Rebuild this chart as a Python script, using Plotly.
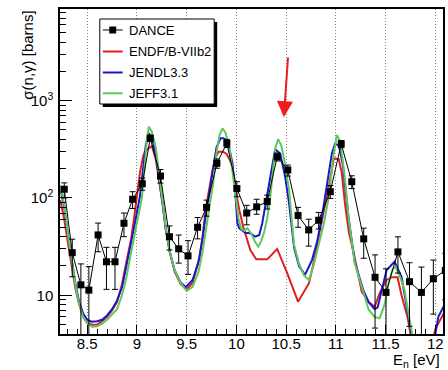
import plotly.graph_objects as go
import math

# ---------------- data ----------------
dance_E = [8.27, 8.35, 8.437, 8.517, 8.61, 8.694, 8.78, 8.87, 8.957, 9.054,
           9.134, 9.237, 9.327, 9.42, 9.514, 9.61, 9.70, 9.804, 9.904, 10.005,
           10.104, 10.204, 10.31, 10.41, 10.517, 10.62, 10.727, 10.827, 10.944, 11.054,
           11.16, 11.28, 11.394, 11.504, 11.624, 11.74, 11.86, 11.98, 12.10]
dance_sigma = [123, 27.4, 12.8, 11.3, 41.7, 22.1, 22.1, 55, 97, 140,
               411, 168, 40, 30, 25.4, 50, 80, 227, 365, 125,
               70, 81, 92, 265, 194, 66, 47, 59, 116, 359,
               147, 38, 15.3, 10.7, 27.9, 13.8, 10.7, 14.8, 18]
dance_err_up = [20, 10.3, 8.2, 8.4, 13.5, 9, 9, 15, 19, 20,
                30, 28, 11.6, 11.6, 11, 13, 15, 25, 35, 22,
                14, 16, 15, 25, 24, 14, 13.5, 12, 18, 30,
                22, 11, 10.7, 8, 12, 7.8, 8.8, 8.2, 9]
dance_err_down = [23, 11.9, 9.8, 9.5, 13.7, 10.6, 10.6, 15, 19, 20,
                  30, 26, 10.8, 8.6, 9, 12, 15, 25, 35, 22,
                  17, 13, 15, 25, 26, 16, 15, 11, 17, 30,
                  22, 14, 10.7, 9, 11, 9, 9.5, 8.4, 9]

endf_E = [8.23, 8.27, 8.31, 8.35, 8.38, 8.42, 8.46, 8.50, 8.56, 8.60,
          8.65, 8.70, 8.75, 8.80, 8.85, 8.89, 8.94, 8.97, 9.00, 9.03,
          9.06, 9.08, 9.11, 9.15, 9.19, 9.23, 9.26, 9.29, 9.33, 9.38,
          9.44, 9.50, 9.56, 9.63, 9.66, 9.69, 9.73, 9.76, 9.79, 9.82,
          9.86, 9.90, 9.93, 9.96, 10.00, 10.03, 10.07, 10.12, 10.14, 10.20,
          10.31, 10.41, 10.51, 10.62, 10.73, 10.79, 10.84, 10.93, 10.98, 11.03,
          11.06, 11.09, 11.13, 11.18, 11.26, 11.33, 11.39, 11.44, 11.51, 11.56,
          11.62, 11.66, 11.72, 11.76, 11.96, 12.00, 12.10]
endf_sigma = [95, 60, 33, 18, 12, 8.0, 6.0, 5.2, 4.95, 5.0,
              5.4, 6.0, 7.0, 8.5, 13, 21, 37, 60, 103, 180,
              260, 300, 320, 342, 250, 140, 85, 48, 28, 17.5,
              13, 11.5, 13.4, 24.9, 40, 75, 130, 193, 260, 299,
              299, 285, 250, 210, 110, 75, 50, 35, 29.2, 23.4,
              23.4, 29.9, 17, 8.6, 13.3, 25, 47, 131, 256, 250,
              180, 90, 45, 27, 10.9, 8.5, 7.6, 10.5, 14.4, 15.3,
              15.3, 10, 6.0, 3.5, 3.0, 4.5, 7.0]

jendl_E = [8.23, 8.27, 8.31, 8.35, 8.38, 8.42, 8.46, 8.50, 8.544, 8.60,
           8.65, 8.70, 8.75, 8.80, 8.85, 8.89, 8.94, 8.98, 9.03, 9.06,
           9.09, 9.12, 9.15, 9.19, 9.23, 9.26, 9.29, 9.33, 9.38, 9.44,
           9.49, 9.56, 9.62, 9.66, 9.69, 9.73, 9.76, 9.80, 9.84, 9.87,
           9.90, 9.93, 9.96, 9.99, 10.01, 10.03, 10.09, 10.14, 10.19, 10.23,
           10.26, 10.29, 10.33, 10.36, 10.39, 10.44, 10.49, 10.53, 10.58, 10.63,
           10.69, 10.76, 10.81, 10.86, 10.91, 10.96, 10.99, 11.03, 11.07, 11.10,
           11.13, 11.19, 11.28, 11.33, 11.39, 11.42, 11.51, 11.59, 11.66, 11.73,
           11.77, 11.85, 11.99, 12.03, 12.10]
jendl_sigma = [125, 80, 40, 20, 13.5, 8.5, 6.5, 5.6, 5.36, 5.4,
               5.6, 6.2, 7.2, 8.8, 12, 19, 33, 55, 103, 200,
               350, 462, 420, 280, 150, 85, 48, 28, 18, 13.5,
               12.1, 14.4, 22, 38, 64, 120, 190, 330, 411, 411,
               390, 320, 228, 110, 55, 48.8, 44, 43.5, 40, 41.7,
               55, 81, 142, 220, 317, 287, 166, 88, 31, 20,
               16.2, 23, 35, 64, 131, 287, 357, 350, 220, 120,
               60, 22, 11, 8.5, 7.2, 7.5, 18.2, 22.1, 15.5, 6.0,
               3.5, 2.5, 3.5, 6.0, 8.3]

jeff_E = [8.23, 8.27, 8.31, 8.35, 8.38, 8.42, 8.46, 8.50, 8.55, 8.60,
          8.65, 8.70, 8.75, 8.80, 8.85, 8.89, 8.94, 8.98, 9.02, 9.05,
          9.08, 9.10, 9.12, 9.15, 9.19, 9.23, 9.26, 9.29, 9.33, 9.38,
          9.44, 9.50, 9.56, 9.62, 9.66, 9.70, 9.74, 9.77, 9.80, 9.83,
          9.86, 9.89, 9.93, 9.96, 9.99, 10.02, 10.05, 10.08, 10.11, 10.15,
          10.19, 10.22, 10.25, 10.28, 10.31, 10.34, 10.37, 10.39, 10.42, 10.45,
          10.48, 10.53, 10.58, 10.63, 10.68, 10.73, 10.78, 10.83, 10.88, 10.93,
          10.97, 11.01, 11.04, 11.07, 11.10, 11.13, 11.19, 11.28, 11.33, 11.39,
          11.44, 11.49, 11.53, 11.57, 11.60, 11.65, 11.69, 11.73, 11.76, 11.79]
jeff_sigma = [135, 85, 40, 20, 13, 8.0, 6.0, 5.2, 4.75, 4.8,
              5.1, 5.6, 6.3, 7.2, 10, 14.5, 27, 45, 70, 100,
              220, 400, 540, 480, 330, 160, 90, 50, 28, 18,
              13.3, 11.1, 12.2, 17.5, 28, 52, 95, 150, 290, 440,
              520, 470, 330, 200, 110, 62, 48, 46, 49, 43,
              35, 31.6, 36, 45, 62, 100, 200, 320, 401, 350,
              250, 120, 33, 21, 16, 14.4, 21, 33, 55, 103,
              250, 443, 390, 240, 130, 59, 21.3, 10.5, 7.1, 6.0,
              5.8, 8.0, 13.3, 18.5, 19.7, 15, 11.3, 6.5, 4.4, 3.0]

x_ticks = [8.5, 9, 9.5, 10, 10.5, 11, 11.5, 12]
x_tick_labels = ["8.5", "9", "9.5", "10", "10.5", "11", "11.5", "12"]
y_ticks = [10, 100, 1000]
y_tick_labels = ["10", "10<sup>2</sup>", "10<sup>3</sup>"]
y_minor_ticks = [m * 10 ** k for k in range(0, 4) for m in range(2, 10)]
x_range = [8.227, 12.077]
y_range = [4.0, 8750]

legend_names = ["DANCE", "ENDF/B-VIIb2", "JENDL3.3", "JEFF3.1"]
arrow_tip = (10.477, 675)
arrow_tail = (10.52, 2877)

# ---------------- styles ----------------
FONT = "Arial, Liberation Sans, Helvetica, sans-serif"
RED = "#e02020"
BLUE = "#1818c8"
GREEN = "#5ec85e"
colors = ["black", RED, BLUE, GREEN]

W, H = 448, 370
L, R, T, B = 60, 3, 9, 36
PX0, PX1, PY0, PY1 = L, W - R, T, H - B


def px_x(p):
    return (p - PX0) / (PX1 - PX0)


def px_y(p):
    return (PY1 - p) / (PY1 - PY0)


fig = go.Figure()

for E, s, c, name in [(endf_E, endf_sigma, RED, legend_names[1]),
                      (jendl_E, jendl_sigma, BLUE, legend_names[2]),
                      (jeff_E, jeff_sigma, GREEN, legend_names[3])]:
    fig.add_trace(go.Scatter(x=E, y=s, mode="lines", name=name,
                             line=dict(color=c, width=2), showlegend=False))

fig.add_trace(go.Scatter(
    x=dance_E, y=dance_sigma, mode="lines+markers", name=legend_names[0],
    line=dict(color="black", width=1),
    marker=dict(symbol="square", size=7, color="black"),
    error_y=dict(type="data", symmetric=False, array=dance_err_up,
                 arrayminus=dance_err_down, color="black", thickness=1, width=3),
    showlegend=False))

shapes = []
annotations = []

# legend (shadow + box)
lx0, lx1, ly0, ly1 = 100, 215, 19, 104
shapes.append(dict(type="rect", xref="paper", yref="paper", layer="above",
                   x0=px_x(lx0 + 3), x1=px_x(lx1 + 3), y0=px_y(ly1 + 3), y1=px_y(ly0 + 3),
                   fillcolor="black", line=dict(width=0)))
shapes.append(dict(type="rect", xref="paper", yref="paper", layer="above",
                   x0=px_x(lx0), x1=px_x(lx1), y0=px_y(ly1), y1=px_y(ly0),
                   fillcolor="white", line=dict(color="black", width=1)))
entry_y = [30, 51.5, 72.5, 93.3]
for name, c, ey in zip(legend_names, colors, entry_y):
    shapes.append(dict(type="line", xref="paper", yref="paper", layer="above",
                       x0=px_x(103), x1=px_x(123), y0=px_y(ey), y1=px_y(ey),
                       line=dict(color=c, width=1 if c == "black" else 2)))
    annotations.append(dict(x=px_x(127), y=px_y(ey), xref="paper", yref="paper",
                            text=name, showarrow=False, xanchor="left", yanchor="middle",
                            font=dict(family=FONT, size=13, color="black")))
shapes.append(dict(type="rect", xref="paper", yref="paper", layer="above",
                   x0=px_x(109.5), x1=px_x(116.5), y0=px_y(33.5), y1=px_y(26.5),
                   fillcolor="black", line=dict(width=0)))

# axis titles
annotations.append(dict(x=px_x(27), y=px_y(9), xref="paper", yref="paper",
                        text="σ(n,γ) [barns]", textangle=-90, showarrow=False,
                        xanchor="center", yanchor="top",
                        font=dict(family=FONT, size=15, color="black")))
annotations.append(dict(x=px_x(444), y=px_y(360), xref="paper", yref="paper",
                        text="E<sub>n</sub> [eV]", showarrow=False,
                        xanchor="right", yanchor="middle",
                        font=dict(family=FONT, size=15, color="black")))

# red arrow
annotations.append(dict(x=arrow_tip[0], y=math.log10(arrow_tip[1]),
                        ax=arrow_tail[0], ay=math.log10(arrow_tail[1]),
                        xref="x", yref="y", axref="x", ayref="y",
                        text="", showarrow=True, arrowhead=2, arrowsize=1.6,
                        arrowwidth=2, arrowcolor="#ee1c1c"))

fig.update_layout(
    width=W, height=H,
    margin=dict(l=L, r=R, t=T, b=B, pad=0),
    paper_bgcolor="white", plot_bgcolor="white",
    font=dict(family=FONT, size=15, color="black"),
    shapes=shapes, annotations=annotations,
    showlegend=False,
)
fig.update_xaxes(range=x_range, tickvals=x_ticks, ticktext=x_tick_labels,
                 ticks="inside", ticklen=9, tickcolor="black", tickwidth=1,
                 ticklabelstandoff=-5,
                 minor=dict(ticks="inside", ticklen=5, dtick=0.1, tickcolor="black", showgrid=False),
                 showgrid=True, gridcolor="#8a8a8a", griddash="1px,2px", gridwidth=1,
                 showline=True, linecolor="black", linewidth=1.5, mirror=True,
                 zeroline=False, tickfont=dict(family=FONT, size=15))
fig.update_yaxes(type="log", range=[math.log10(y_range[0]), math.log10(y_range[1])],
                 tickvals=y_ticks, ticktext=y_tick_labels,
                 ticks="inside", ticklen=12, tickcolor="black", tickwidth=1,
                 ticklabelstandoff=2,
                 minor=dict(ticks="inside", ticklen=6, tickvals=y_minor_ticks,
                            tickcolor="black", showgrid=False),
                 showgrid=False, showline=True, linecolor="black", linewidth=1.5, mirror=True,
                 zeroline=False, tickfont=dict(family=FONT, size=15))

fig.write_html("out.html")
